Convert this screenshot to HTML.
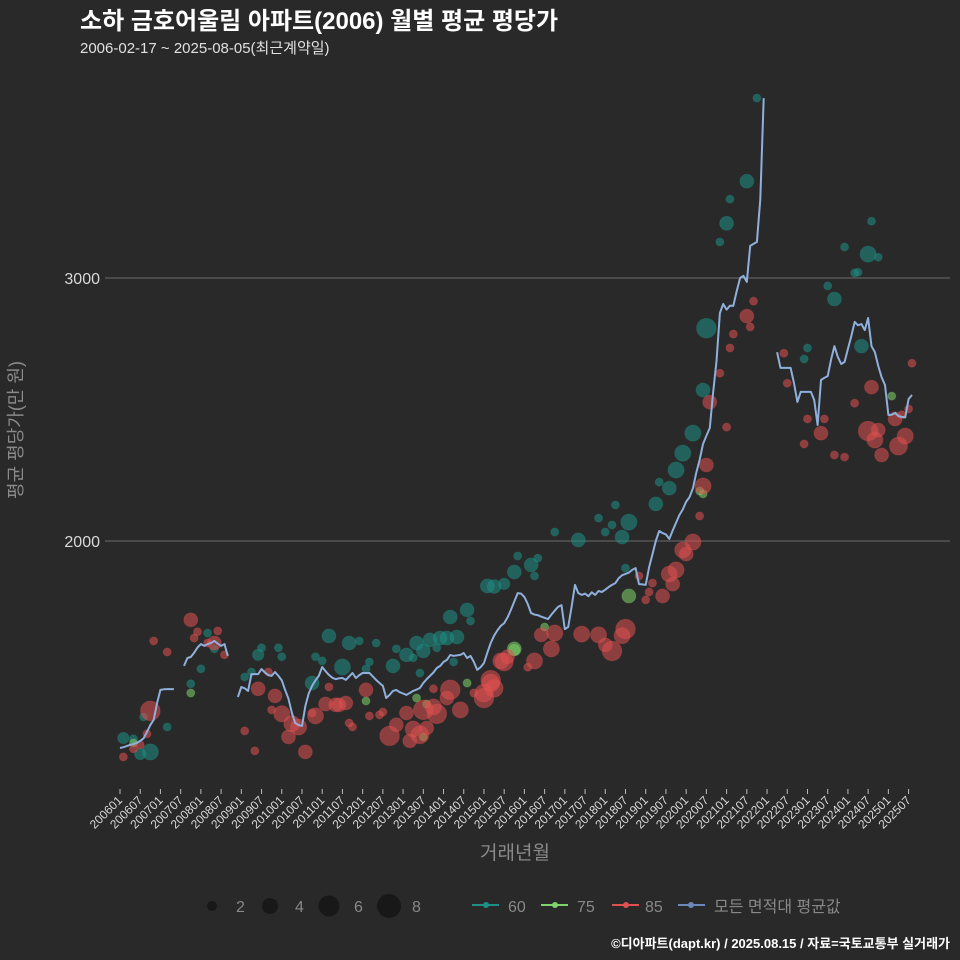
<!DOCTYPE html>
<html><head><meta charset="utf-8">
<style>
html,body{margin:0;padding:0;background:#292929;}
svg{display:block;font-family:"Liberation Sans","Noto Sans CJK KR",sans-serif;}
</style></head>
<body>
<svg id="chart" width="960" height="960" viewBox="0 0 960 960">
<rect width="960" height="960" fill="#292929"/>
<text x="80" y="29" fill="#ffffff" font-size="24" font-weight="bold">소하 금호어울림 아파트(2006) 월별 평균 평당가</text>
<text x="80" y="53" fill="#e0e0e0" font-size="15">2006-02-17 ~ 2025-08-05(최근계약일)</text>
<text transform="translate(22,430) rotate(-90)" text-anchor="middle" fill="#8a8a8a" font-size="18">평균 평당가(만 원)</text>
<text x="515" y="859" text-anchor="middle" fill="#8a8a8a" font-size="19">거래년월</text>
<g id="grid"></g>
<g id="xaxis"></g>
<g id="points"></g>
<g id="lines"></g>
<g id="legend">
  <circle cx="212" cy="906" r="5" fill="#181818"/>
  <text x="236" y="912" fill="#888" font-size="16">2</text>
  <circle cx="270" cy="906" r="8" fill="#181818"/>
  <text x="295" y="912" fill="#888" font-size="16">4</text>
  <circle cx="329" cy="906" r="10.5" fill="#181818"/>
  <text x="354" y="912" fill="#888" font-size="16">6</text>
  <circle cx="389" cy="906" r="12" fill="#181818"/>
  <text x="412" y="912" fill="#888" font-size="16">8</text>
  <g><line x1="472" y1="905" x2="499" y2="905" stroke="#1f8f86" stroke-width="2"/><circle cx="486" cy="905" r="3" fill="#1f8f86"/><text x="508" y="912" fill="#888" font-size="16">60</text></g>
  <g><line x1="541" y1="905" x2="568" y2="905" stroke="#7fd36a" stroke-width="2"/><circle cx="555" cy="905" r="3" fill="#7fd36a"/><text x="577" y="912" fill="#888" font-size="16">75</text></g>
  <g><line x1="612" y1="905" x2="639" y2="905" stroke="#e05050" stroke-width="2"/><circle cx="626" cy="905" r="3" fill="#e05050"/><text x="645" y="912" fill="#888" font-size="16">85</text></g>
  <g><line x1="678" y1="905" x2="705" y2="905" stroke="#6a88b8" stroke-width="2"/><circle cx="691" cy="905" r="3" fill="#6a88b8"/><text x="714" y="912" fill="#888" font-size="16">모든 면적대 평균값</text></g>
</g>
<text x="950" y="948" text-anchor="end" fill="#ffffff" font-size="13" font-weight="bold">©디아파트(dapt.kr) / 2025.08.15 / 자료=국토교통부 실거래가</text>
</svg>
<script>
// monthly average, index 0 = 2006-01, null = no trades
const yTicks = [2000, 3000];
const lineValues = [
1213,1216,1220,1225,1228,1232,1240,1250,1274,1300,1320,1384,1434,1436,1437,1437,1437,
null,null,
1525,1555,1559,1575,1595,1608,1601,1608,1612,1620,1610,1601,1608,1563,
null,null,
1407,1445,1440,1430,1494,1494,1494,1513,1500,1490,
1487,1502,1487,1470,1434,1400,1346,1308,1300,1297,
1373,1420,1449,1470,1487,1521,1505,1491,1480,1475,
1478,1479,1472,1485,1498,1479,1490,1498,1498,1498,
1485,1472,1460,1449,1403,1415,1430,1434,1425,1420,
1415,1422,1430,1435,1441,1460,1475,1487,1500,1517,
1525,1540,1548,1567,1563,1565,1567,1574,1555,1563,
1540,1510,1520,1536,1575,1612,1640,1660,1677,1688,
1710,1738,1770,1802,1800,1787,1760,1726,1720,1718,
1712,1708,1703,1720,1735,1750,1756,1665,1673,1750,
1833,1802,1795,1800,1790,1805,1795,1810,1806,1815,
1825,1833,1840,1859,1870,1875,1880,1890,1897,1836,
1835,1833,1900,1950,2000,2038,2030,2025,2008,2040,
2070,2099,2120,2150,2167,2200,2260,2308,2369,2400,
2430,2563,2684,2867,2901,2880,2895,2894,2950,3000,
3008,2985,3122,3130,3137,3300,3684,
null,null,null,
2718,2658,2658,2658,2658,2600,2529,2567,2567,2567,
2567,2536,2441,2612,2620,2627,2690,2741,2700,2673,
2681,2730,2779,2833,2820,2825,2802,2848,2741,2718,
2665,2623,2593,2479,2480,2487,2475,2472,2470,2540,2555];
const ptMonths = [1,4,6,9,7,14,21,24,26,28,37,39,41,42,47,48,57,58,60,62,66,68,71,73,74,76,81,82,85,87,88,90,92,94,95,97,100,89,98,103,104,99,109,111,114,117,118,122,123,124,129,136,142,144,146,147,149,151,150,159,160,163,165,167,170,173,174,178,180,181,186,189,203,204,210,212,215,218,219,222,223,225,220,
4,21,73,88,90,91,103,117,117,126,151,173,172,229,
1,4,9,8,6,10,14,21,23,22,26,28,29,31,37,40,41,44,46,45,48,51,53,50,55,58,57,62,61,64,65,67,68,69,73,74,77,78,80,82,85,87,89,86,90,91,93,94,98,97,93,101,105,108,110,111,108,114,115,110,113,123,121,125,128,129,137,142,144,146,150,149,154,157,156,158,161,164,163,165,167,168,170,172,173,174,175,180,178,181,182,186,187,188,197,198,204,203,208,209,212,215,218,222,224,225,223,226,230,231,233,232,234,235];
const ptValues = [1251,1248,1190,1198,1331,1293,1457,1514,1650,1590,1483,1502,1567,1594,1594,1560,1460,1560,1544,1639,1521,1612,1620,1514,1540,1612,1525,1590,1567,1556,1612,1582,1624,1594,1631,1631,1635,1498,1711,1738,1696,1540,1829,1827,1837,1882,1943,1909,1867,1935,2034,2004,2087,2034,2061,2137,2015,2072,1897,2141,2224,2201,2270,2334,2410,2574,2809,3137,3208,3300,3368,3684,2692,2734,2970,2920,3118,3019,3022,3091,3216,3079,2741,
1232,1422,1392,1403,1255,1380,1460,1586,1590,1673,1791,2179,2190,2551,
1179,1210,1354,1267,1225,1620,1578,1700,1655,1631,1612,1612,1658,1567,1278,1202,1438,1502,1411,1358,1343,1305,1293,1255,1198,1335,1346,1445,1380,1377,1377,1384,1308,1293,1434,1335,1339,1350,1259,1301,1346,1285,1263,1240,1358,1289,1369,1343,1434,1403,1438,1358,1422,1422,1471,1440,1403,1540,1560,1460,1544,1544,1520,1643,1590,1650,1646,1643,1605,1582,1665,1640,1867,1806,1776,1840,1791,1836,1874,1890,1966,1950,1996,2095,2209,2289,2528,2433,2638,2734,2787,2855,2814,2912,2714,2600,2464,2369,2410,2464,2327,2319,2524,2418,2384,2422,2585,2327,2464,2361,2399,2480,2502,2676];
const ptCounts = [2,1,2,4,1,1,1,1,1,1,1,1,2,1,1,1,3,1,1,3,4,3,1,1,1,1,3,1,3,1,3,3,3,1,3,3,3,1,3,3,1,1,3,3,2,3,1,3,1,1,1,3,1,1,1,1,3,4,1,3,1,3,4,4,4,3,6,1,3,1,3,1,1,1,1,3,1,1,1,4,1,1,3,
1,1,1,1,1,1,1,2,3,1,3,1,1,1,
1,1,6,1,1,1,1,3,1,1,1,3,1,1,1,1,3,1,3,1,4,4,4,3,3,4,1,1,3,3,3,3,1,1,3,1,1,1,6,3,3,4,5,3,6,3,4,6,6,3,1,4,1,5,6,5,6,5,3,5,4,4,1,3,4,4,4,4,3,6,6,4,1,1,1,1,3,3,4,4,4,3,4,1,4,3,3,1,1,1,1,3,1,1,1,1,1,1,3,1,1,1,1,6,4,3,3,3,3,5,4,1,1,1];
const ptAreaCounts = [83, 14];  // first 83 = 60㎡, next 14 = 75㎡, rest = 85㎡
const xTickLabels = [];
for (let y = 2006; y <= 2025; y++) { xTickLabels.push(y + "01"); xTickLabels.push(y + "07"); }

const NS = "http://www.w3.org/2000/svg";
const X0 = 120, XPM = 3.37, Y2000 = 541, YPU = 0.263;
function xs(m) { return X0 + m * XPM; }
function ys(v) { return Y2000 - (v - 2000) * YPU; }
function rs(n) { return 4 * Math.sqrt(n); }
function mk(tag, attrs, parent) { const e = document.createElementNS(NS, tag); for (const k in attrs) e.setAttribute(k, attrs[k]); parent.appendChild(e); return e; }

const grid = document.getElementById('grid');
yTicks.forEach(t => {
  const l = mk('line', {x1: 105, x2: 950, y1: ys(t), y2: ys(t), stroke: '#6a6a6a', 'stroke-width': 1}, grid);
  
  
  const tx = mk('text', {x: 100, y: ys(t) + 6, 'text-anchor': 'end', fill: '#d8d8d8', 'font-size': 16}, grid);
  tx.textContent = t;
  
  
});

const xa = document.getElementById('xaxis');
xTickLabels.forEach((lab, i) => {
  const x = xs(i * 6);
  const tk = mk('line', {x1: x, x2: x, y1: 789, y2: 794, stroke: '#bbbbbb', 'stroke-width': 1}, xa);
  
  
  const tx = mk('text', {x: x + 3, y: 801, 'text-anchor': 'end', fill: '#d8d8d8', 'font-size': 12, transform: 'rotate(-45 ' + (x + 3) + ' 801)'}, xa);
  tx.textContent = lab;
  
  
});

const pts = document.getElementById('points');
const colors = ['#1f8f86', '#7fd36a', '#e05050'];
const areaNames = ['60', '75', '85'];
ptMonths.forEach((m, i) => {
  const a = i < ptAreaCounts[0] ? 0 : (i < ptAreaCounts[0] + ptAreaCounts[1] ? 1 : 2);
  const c = mk('circle', {cx: xs(m), cy: ys(ptValues[i]), r: rs(ptCounts[i]), fill: colors[a], 'fill-opacity': 0.55, stroke: colors[a], 'stroke-opacity': 0.3}, pts);
  
  
});

const lg = document.getElementById('lines');
let seg = [];
function flush() {
  if (seg.length > 1) {
    const p = mk('polyline', {points: seg.join(' '), fill: 'none', stroke: '#8fb0dc', 'stroke-width': 2, 'stroke-linejoin': 'round'}, lg);
    
    
  }
  seg = [];
}
lineValues.forEach((v, m) => {
  if (v === null) { flush(); return; }
  seg.push(xs(m).toFixed(1) + ',' + ys(v).toFixed(1));
});
flush();
</script>
</body></html>
